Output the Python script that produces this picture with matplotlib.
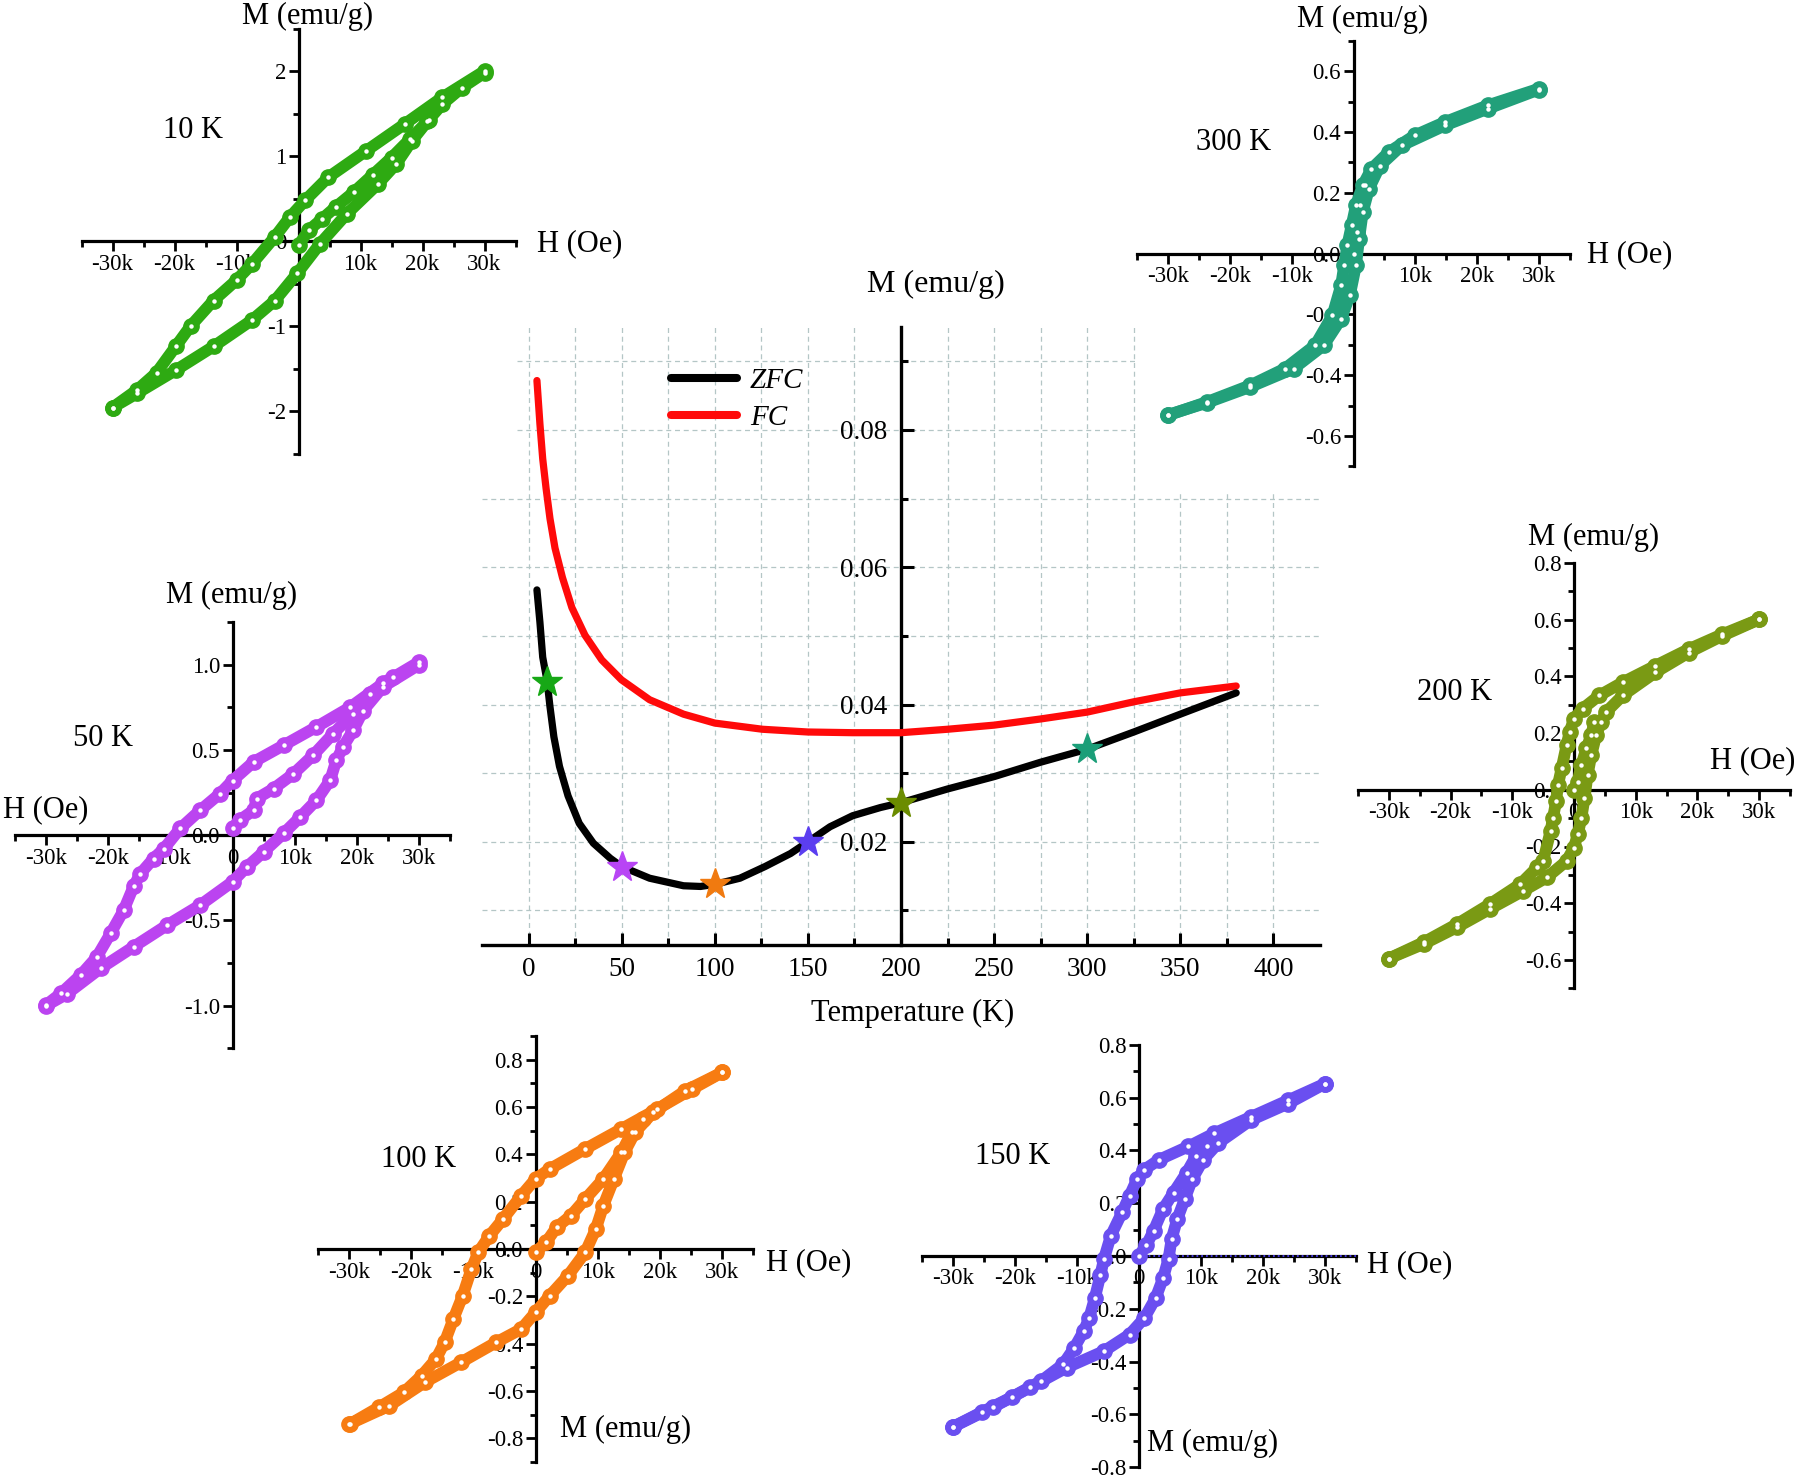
import matplotlib
matplotlib.use('Agg')
import matplotlib.pyplot as plt
from matplotlib.ticker import FixedLocator, MultipleLocator
from matplotlib.lines import Line2D

plt.rcParams['font.family'] = ['Liberation Serif', 'DejaVu Serif']
plt.rcParams['axes.unicode_minus'] = False

# ---------------- central ZFC / FC data ----------------
T_zfc = [4.5, 6.1, 7.6, 10, 11.5, 13.6, 16.6, 21.2, 27.2, 34.8, 43.9, 50, 65, 83.2, 92.3, 100,
         113.5, 127, 140.7, 150, 161.9, 174, 189, 200, 225, 250, 275, 300, 325, 350, 380]
M_zfc = [0.0567, 0.0520, 0.0469, 0.0433, 0.0397, 0.0353, 0.0310, 0.0267, 0.0227, 0.0198, 0.0176,
         0.0164, 0.0147, 0.0136, 0.0135, 0.0138, 0.0147, 0.0164, 0.0183, 0.0200, 0.0222, 0.0238,
         0.0250, 0.0257, 0.0277, 0.0295, 0.0316, 0.0335, 0.0360, 0.0386, 0.0417]
T_fc = [4.5, 6.1, 7.6, 9.4, 11.5, 14.2, 18.2, 23.3, 30.3, 39.3, 49.9, 65, 83.2, 100, 125.6, 150,
        174, 200, 225, 250, 275, 300, 325, 350, 380]
M_fc = [0.0872, 0.0809, 0.0758, 0.0715, 0.0671, 0.0628, 0.0585, 0.0541, 0.0501, 0.0465, 0.0436,
        0.0407, 0.0386, 0.0373, 0.0364, 0.0360, 0.0359, 0.0359, 0.0364, 0.0370, 0.0379, 0.0389,
        0.0404, 0.0417, 0.0427]
star_T = [10, 50, 100, 150, 200, 300]
star_M = [0.0433, 0.0164, 0.0138, 0.0200, 0.0257, 0.0335]
star_colors = ['#17a816', '#b845f5', '#f07a10', '#5b3ef0', '#6b8c00', '#1a9e78']
T_ticks = [0, 50, 100, 150, 200, 250, 300, 350, 400]
T_minor = [25, 75, 125, 175, 225, 275, 325, 375]
M_ticks = [0.02, 0.04, 0.06, 0.08]
M_ticklabels = ['0.02', '0.04', '0.06', '0.08']

# ---------------- hysteresis loops (H in kOe, M in emu/g) ----------------
H10_dn = [30, 23.2, 17.1, 10.9, 4.8, 1.1, -1.4, -3.8, -7.5, -10, -13.7, -17.4, -19.8, -22.9, -26, -30]
M10_dn = [2.0, 1.69, 1.375, 1.06, 0.75, 0.48, 0.28, 0.05, -0.27, -0.46, -0.70, -1.0, -1.24, -1.55, -1.75, -1.96]
H10_up = [-30, -26, -19.8, -13.7, -7.5, -3.8, -0.2, 3.5, 7.8, 12.8, 15.8, 18.3, 20.8, 23.2, 26.3, 30]
M10_up = [-1.96, -1.79, -1.52, -1.24, -0.93, -0.70, -0.38, -0.03, 0.32, 0.67, 0.91, 1.18, 1.41, 1.61, 1.80, 1.98]
H10_vir = [0, 1.7, 3.8, 6, 9, 12, 15, 18, 21]
M10_vir = [-0.05, 0.13, 0.26, 0.40, 0.58, 0.78, 0.98, 1.2, 1.42]

H50_dn = [30, 24.2, 18.9, 13.5, 8.2, 3.4, 0, -2, -5.2, -8.4, -11, -12.7, -14.8, -15.9, -17.5, -19.6, -21.8, -24.4, -27.6, -30]
M50_dn = [1.016, 0.89, 0.75, 0.635, 0.527, 0.43, 0.32, 0.244, 0.146, 0.04, -0.078, -0.137, -0.225, -0.30, -0.44, -0.576, -0.713, -0.82, -0.928, -0.996]
H50_up = [-30, -26.6, -21.2, -15.9, -10.5, -5.2, 0, 2.3, 5, 8.2, 10.9, 13.5, 15.7, 16.7, 17.8, 19.4, 21, 24.2, 30]
M50_up = [-1.0, -0.93, -0.78, -0.654, -0.527, -0.41, -0.273, -0.186, -0.098, 0.01, 0.107, 0.205, 0.322, 0.44, 0.52, 0.615, 0.73, 0.87, 1.0]
H50_vir = [0, 1.2, 3.4, 3.9, 6.6, 9.8, 13, 16.2, 19.4, 22.1, 25.8]
M50_vir = [0.04, 0.09, 0.146, 0.215, 0.273, 0.36, 0.47, 0.596, 0.713, 0.83, 0.93]

H100_dn = [30, 25.2, 19.5, 13.8, 8, 2.3, 0, -2.3, -5.2, -7.4, -9.2, -10.3, -11.7, -13.2, -14.6, -16, -18.3, -21.2, -25.2, -29.8]
M100_dn = [0.746, 0.676, 0.59, 0.507, 0.423, 0.338, 0.296, 0.225, 0.127, 0.056, -0.014, -0.085, -0.197, -0.296, -0.394, -0.465, -0.535, -0.606, -0.669, -0.739]
H100_up = [-30, -23.5, -17.8, -12, -6.3, -2.3, 0, 2.3, 5.2, 8, 9.7, 10.9, 12.6, 14.3, 16, 18.9, 24.1, 30]
M100_up = [-0.74, -0.662, -0.563, -0.479, -0.394, -0.338, -0.268, -0.197, -0.113, -0.014, 0.085, 0.183, 0.296, 0.408, 0.493, 0.577, 0.669, 0.746]
H100_vir = [0, 1.7, 3.4, 5.7, 8, 10.9, 13.8, 15.5, 17.2]
M100_vir = [-0.014, 0.028, 0.092, 0.141, 0.211, 0.296, 0.408, 0.493, 0.549]

H150_dn = [30, 24.1, 18.1, 12.2, 8, 3.3, 0.9, -0.3, -1.5, -2.7, -4.5, -5.6, -6.2, -7.1, -8, -8.9, -10.4, -12.2, -15.7, -20.5, -25.3, -30]
M150_dn = [0.6525, 0.59, 0.527, 0.465, 0.415, 0.365, 0.3275, 0.29, 0.2275, 0.165, 0.0775, -0.01, -0.0725, -0.16, -0.235, -0.285, -0.3475, -0.41, -0.4725, -0.535, -0.591, -0.6475]
H150_up = [-30, -23.5, -17.5, -11.6, -5.6, -1.5, 0.9, 2.7, 3.9, 4.8, 5.3, 6.2, 7.4, 8.6, 10.4, 12.8, 18.1, 24.1, 30]
M150_up = [-0.6475, -0.5725, -0.4975, -0.4225, -0.36, -0.2975, -0.235, -0.16, -0.085, -0.01, 0.065, 0.14, 0.215, 0.29, 0.365, 0.4275, 0.515, 0.5775, 0.6525]
H150_vir = [0, 1.2, 2.4, 3.9, 5.6, 7.7, 9.2, 11]
M150_vir = [0.0, 0.04, 0.096, 0.1775, 0.24, 0.315, 0.3775, 0.415]

H200_dn = [30, 24, 18.6, 13.2, 7.9, 4.1, 1.4, 0, -0.7, -1.2, -2, -2.6, -2.9, -3.4, -3.8, -5, -6, -8.7, -13.6, -18.9, -24.3, -30]
M200_dn = [0.601, 0.548, 0.496, 0.4375, 0.379, 0.3326, 0.286, 0.251, 0.204, 0.1575, 0.076, 0.0175, -0.041, -0.099, -0.146, -0.251, -0.274, -0.3326, -0.4026, -0.4726, -0.537, -0.595]
H200_up = [-30, -24.3, -18.9, -13.6, -8.2, -4.4, -1.2, 0, 0.6, 1.2, 1.7, 2.2, 2.8, 3.6, 4.4, 5.2, 7.9, 13.2, 18.6, 24, 30]
M200_up = [-0.595, -0.543, -0.484, -0.42, -0.356, -0.309, -0.251, -0.204, -0.1575, -0.099, -0.029, 0.0525, 0.1225, 0.1925, 0.239, 0.274, 0.3326, 0.414, 0.484, 0.5426, 0.601]
H200_vir = [0, 0.6, 1.2, 2, 2.8, 3.3]
M200_vir = [0, 0.029, 0.0875, 0.146, 0.1925, 0.239]

H300_dn = [30, 21.7, 14.8, 9.9, 5.7, 2.9, 1.5, 0.4, -0.3, -1, -1.5, -2, -3.4, -6.2, -11.1, -16.7, -23.7, -30]
M300_dn = [0.5425, 0.4877, 0.433, 0.389, 0.334, 0.279, 0.2247, 0.159, 0.093, 0.027, -0.038, -0.104, -0.2027, -0.301, -0.378, -0.433, -0.4877, -0.5315]
H300_up = [-30, -23.7, -16.7, -9.7, -4.8, -2, -0.6, 0.4, 0.9, 1.5, 2.5, 4.3, 7.8, 14.8, 21.7, 30]
M300_up = [-0.53, -0.49, -0.438, -0.378, -0.301, -0.214, -0.137, -0.038, 0.049, 0.137, 0.2137, 0.29, 0.356, 0.422, 0.4767, 0.54]
H300_vir = [0, 0.5, 1, 1.8]
M300_vir = [0, 0.071, 0.159, 0.2247]

H_ticks = [-30, -20, -10, 0, 10, 20, 30]
H_labels = ['-30k', '-20k', '-10k', '0', '10k', '20k', '30k']
H_labels_no0 = ['-30k', '-20k', '-10k', '', '10k', '20k', '30k']

# ---------------- figure ----------------
W, Hpx = 1800, 1480
fig = plt.figure(figsize=(W / 100, Hpx / 100), dpi=100)


def px_axes(l, t, r, b):
    return fig.add_axes([l / W, 1 - b / Hpx, (r - l) / W, (b - t) / Hpx])


def px_text(x, y, s, size=22, **kw):
    fig.text(x / W, 1 - y / Hpx, s, ha='center', va='center', fontsize=size, **kw)


# central axes
ax = px_axes(482, 327, 1320, 944.8)
ax.set_xlim(-25, 425)
ax.set_ylim(0.005, 0.095)
ax.spines['top'].set_visible(False)
ax.spines['right'].set_visible(False)
ax.spines['left'].set_position(('data', 200))
for s in ('left', 'bottom'):
    ax.spines[s].set_linewidth(2.4)
ax.xaxis.set_major_locator(FixedLocator(T_ticks))
ax.xaxis.set_minor_locator(FixedLocator(T_minor))
ax.yaxis.set_major_locator(FixedLocator(M_ticks))
ax.set_yticklabels(M_ticklabels)
ax.yaxis.set_minor_locator(MultipleLocator(0.01))
ax.tick_params(which='both', direction='in', width=2.2, labelsize=19.5)
ax.tick_params(which='major', length=9)
ax.tick_params(which='minor', length=5)
ax.tick_params(axis='x', pad=9)
ax.tick_params(axis='y', pad=10)
ax.grid(which='both', linestyle=(0, (4, 3)), color='#b4c6c6', linewidth=0.9)
ax.set_axisbelow(True)
ax.plot(T_fc, M_fc, color='#ff0a0a', lw=5.2, solid_capstyle='round', solid_joinstyle='round', zorder=3)
ax.plot(T_zfc, M_zfc, color='black', lw=5.2, solid_capstyle='round', solid_joinstyle='round', zorder=3)
for t, m, c in zip(star_T, star_M, star_colors):
    ax.plot([t], [m], marker='*', ms=23, color=c, mec=c, zorder=5)
handles = [Line2D([], [], color='black', lw=5.8, solid_capstyle='round'),
           Line2D([], [], color='#ff0a0a', lw=5.8, solid_capstyle='round')]
ax.legend(handles, ['ZFC', 'FC'], loc='center left', bbox_to_anchor=(671 / W, 1 - 399.5 / Hpx),
          bbox_transform=fig.transFigure, frameon=False, borderpad=0, borderaxespad=0,
          handlelength=2.25, handletextpad=0.45, labelspacing=0.35,
          prop={'family': 'Liberation Serif', 'style': 'italic', 'size': 21})
px_text(935.6, 284.7, 'M (emu/g)', size=23)
px_text(912.7, 1013.7, 'Temperature (K)', size=22)


def setup_inset(a, ylim, yticks, ylabels, yminor, xlabels, ybounds=None):
    a.set_xlim(-35, 35)
    a.set_ylim(*ylim)
    a.set_facecolor('white')
    a.spines['left'].set_position(('data', 0))
    a.spines['bottom'].set_position(('data', 0))
    a.spines['top'].set_visible(False)
    a.spines['right'].set_visible(False)
    for s in ('left', 'bottom'):
        a.spines[s].set_linewidth(2.3)
    if ybounds is not None:
        a.spines['left'].set_bounds(*ybounds)
    a.xaxis.set_major_locator(FixedLocator(H_ticks))
    a.set_xticklabels(xlabels)
    a.xaxis.set_minor_locator(MultipleLocator(5))
    a.yaxis.set_major_locator(FixedLocator(yticks))
    a.set_yticklabels(ylabels)
    a.yaxis.set_minor_locator(MultipleLocator(yminor))
    a.tick_params(which='both', direction='out', width=2, labelsize=16.5, pad=2)
    a.tick_params(which='major', length=7)
    a.tick_params(which='minor', length=4.5)


def draw_loop(a, branches, color):
    for hh, mm in branches:
        a.plot(hh, mm, '-', color=color, lw=8.5, solid_capstyle='round', solid_joinstyle='round', zorder=3)
        a.plot(hh, mm, 'o', ms=11, mfc=color, mec=color, zorder=4)
        a.plot(hh, mm, 'o', ms=3.2, mfc='white', mec='none', zorder=5)


# 10 K
a10 = px_axes(81.5, 28.5, 515.5, 453.5)
setup_inset(a10, (-2.5, 2.5), [-2, -1, 0, 1, 2], ['-2', '-1', '0', '1', '2'], 0.5, H_labels_no0)
draw_loop(a10, [(H10_dn, M10_dn), (H10_up, M10_up), (H10_vir, M10_vir)], '#2eaa12')
px_text(307.7, 16.1, 'M (emu/g)')
px_text(579.7, 243.4, 'H (Oe)')
px_text(192.9, 130.9, '10 K')

# 300 K
a300 = px_axes(1137.3, 40.9, 1569.7, 490.8)
setup_inset(a300, (-0.78, 0.7), [-0.6, -0.4, -0.2, 0, 0.2, 0.4, 0.6],
            ['-0.6', '-0.4', '-0.2', '0.0', '0.2', '0.4', '0.6'], 0.1, H_labels_no0, ybounds=(-0.7, 0.7))
draw_loop(a300, [(H300_dn, M300_dn), (H300_up, M300_up), (H300_vir, M300_vir)], '#22a07a')
px_text(1362.7, 19.5, 'M (emu/g)')
px_text(1630, 254.9, 'H (Oe)')
px_text(1234, 142.4, '300 K')

# 50 K
a50 = px_axes(14.8, 622, 450.2, 1048.4)
setup_inset(a50, (-1.25, 1.25), [-1.0, -0.5, 0, 0.5, 1.0], ['-1.0', '-0.5', '0.0', '0.5', '1.0'], 0.25, H_labels)
draw_loop(a50, [(H50_dn, M50_dn), (H50_up, M50_up), (H50_vir, M50_vir)], '#bb44f0')
px_text(232, 595, 'M (emu/g)')
px_text(46, 810, 'H (Oe)')
px_text(103, 738, '50 K')

# 200 K
a200 = px_axes(1358, 562.9, 1790, 988.3)
setup_inset(a200, (-0.7, 0.8), [-0.6, -0.4, -0.2, 0, 0.2, 0.4, 0.6, 0.8],
            ['-0.6', '-0.4', '-0.2', '0.0', '0.2', '0.4', '0.6', '0.8'], 0.1, H_labels)
draw_loop(a200, [(H200_dn, M200_dn), (H200_up, M200_up), (H200_vir, M200_vir)], '#7a9a14')
px_text(1593.5, 537, 'M (emu/g)')
px_text(1753, 761, 'H (Oe)')
px_text(1454.5, 692, '200 K')

# 100 K
a100 = px_axes(317.7, 1035.9, 753.3, 1462.1)
setup_inset(a100, (-0.9, 0.9), [-0.8, -0.6, -0.4, -0.2, 0, 0.2, 0.4, 0.6, 0.8],
            ['-0.8', '-0.6', '-0.4', '-0.2', '0.0', '0.2', '0.4', '0.6', '0.8'], 0.1, H_labels)
draw_loop(a100, [(H100_dn, M100_dn), (H100_up, M100_up), (H100_vir, M100_vir)], '#f77c12')
px_text(626, 1429, 'M (emu/g)')
px_text(809, 1263, 'H (Oe)')
px_text(419, 1159.5, '100 K')

# 150 K
a150 = px_axes(921.8, 1044.8, 1355.8, 1467.2)
setup_inset(a150, (-0.8, 0.8), [-0.8, -0.6, -0.4, -0.2, 0, 0.2, 0.4, 0.6, 0.8],
            ['-0.8', '-0.6', '-0.4', '-0.2', '0.0', '0.2', '0.4', '0.6', '0.8'], 0.1, H_labels)
a150.axhline(0, xmin=0.5, xmax=1.0, color='#4a3aee', lw=1.3, ls=':', zorder=2.6)
draw_loop(a150, [(H150_dn, M150_dn), (H150_up, M150_up), (H150_vir, M150_vir)], '#6a4ff0')
px_text(1213, 1443, 'M (emu/g)')
px_text(1410, 1265, 'H (Oe)')
px_text(1012.5, 1156, '150 K')

fig.savefig('out.png', dpi=100, facecolor='white')
